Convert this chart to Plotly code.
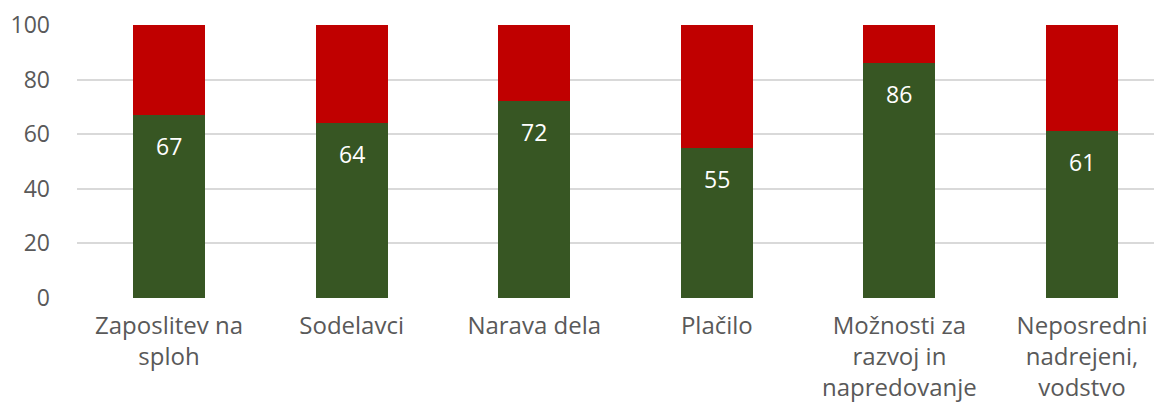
import plotly.graph_objects as go

categories = ["Zaposlitev na<br>sploh", "Sodelavci", "Narava dela", "Plačilo",
              "Možnosti za<br>razvoj in<br>napredovanje", "Neposredni<br>nadrejeni,<br>vodstvo"]
satisfied = [67, 64, 72, 55, 86, 61]
dissatisfied = [100 - v for v in satisfied]
yticks = [0, 20, 40, 60, 80, 100]

FONT = "Open Sans, Liberation Sans, sans-serif"
GRAY = "#595959"
xs = list(range(len(categories)))

fig = go.Figure()
fig.add_trace(go.Bar(
    x=xs, y=satisfied, marker_color="#375623",
    marker_line_width=0, width=0.394,
))
fig.add_trace(go.Bar(
    x=xs, y=dissatisfied, marker_color="#C00000",
    marker_line_width=0, width=0.394,
))
for x, v in zip(xs, satisfied):
    fig.add_annotation(x=x, y=v, text=str(v), showarrow=False, yanchor="top",
                       yshift=-13, font=dict(color="white", size=23, family=FONT))

fig.update_layout(
    barmode="stack", showlegend=False, width=1154, height=402,
    margin=dict(l=69, r=0, t=17, b=112),
    plot_bgcolor="white", paper_bgcolor="white",
    font=dict(family=FONT, color=GRAY, size=23),
)
fig.update_xaxes(
    tickmode="array", tickvals=xs, ticktext=categories, automargin=False,
    range=[-0.504, 5.438], showgrid=False, zeroline=False, showline=False,
    ticks="", tickfont=dict(size=24, color=GRAY, family=FONT), ticklabelstandoff=11,
)
fig.update_yaxes(
    range=[0, 100], tickmode="array", tickvals=yticks, automargin=False,
    showgrid=True, gridcolor="#D9D9D9", gridwidth=1.5, zeroline=False,
    tickfont=dict(size=23, color=GRAY, family=FONT), ticks="", ticklabelstandoff=26,
)
fig.write_html("out.html")
